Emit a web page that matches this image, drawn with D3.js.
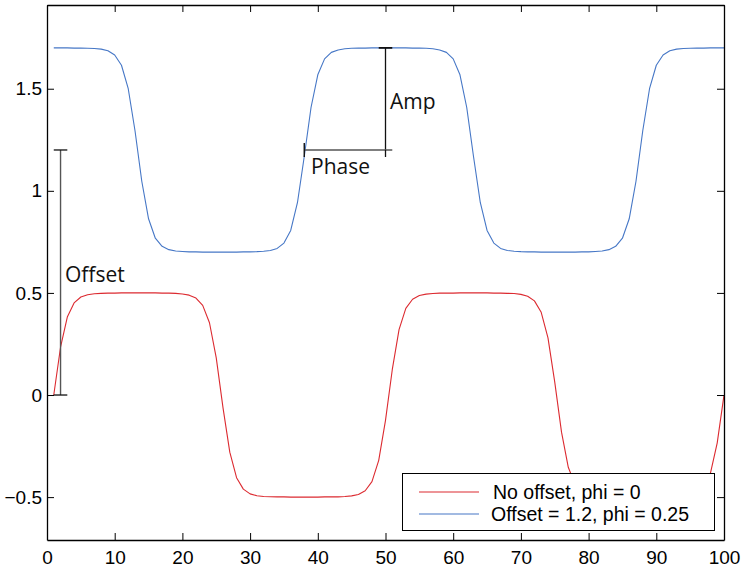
<!DOCTYPE html>
<html>
<head>
<meta charset="utf-8">
<script src="https://cdn.jsdelivr.net/npm/d3@7"></script>
<style>
  html, body { margin: 0; padding: 0; background: #fff; }
  svg { display: block; }
</style>
</head>
<body>
<svg id="chart" width="744" height="571"></svg>
<script>
// ---- data ----
const seriesNames = ["No offset, phi = 0", "Offset = 1.2, phi = 0.25"];
const xTicks = [0, 10, 20, 30, 40, 50, 60, 70, 80, 90, 100];
const yTicks = [-0.5, 0, 0.5, 1, 1.5];
const sampleIndex = d3.range(1, 101);

const redValues = [
  0, 0.234, 0.382, 0.451, 0.480, 0.491, 0.496, 0.498, 0.499, 0.499,
  0.500, 0.500, 0.500, 0.500, 0.500, 0.500, 0.499, 0.499, 0.498, 0.495,
  0.489, 0.475, 0.439, 0.354, 0.182, -0.063, -0.280, -0.405, -0.461, -0.484,
  -0.493, -0.497, -0.498, -0.499, -0.499, -0.500, -0.500, -0.500, -0.500, -0.500,
  -0.499, -0.499, -0.499, -0.497, -0.494, -0.487, -0.469, -0.424, -0.320, -0.124,
  0.124, 0.320, 0.424, 0.469, 0.487, 0.494, 0.497, 0.499, 0.499, 0.499,
  0.500, 0.500, 0.500, 0.500, 0.500, 0.499, 0.499, 0.498, 0.497, 0.493,
  0.484, 0.461, 0.405, 0.280, 0.063, -0.182, -0.354, -0.439, -0.475, -0.489,
  -0.495, -0.498, -0.499, -0.499, -0.500, -0.500, -0.500, -0.500, -0.500, -0.500,
  -0.499, -0.499, -0.498, -0.496, -0.491, -0.480, -0.451, -0.382, -0.234, 0
];

const blueValues = [
  1.700, 1.700, 1.700, 1.699, 1.699, 1.698, 1.697, 1.694, 1.686, 1.665,
  1.615, 1.500, 1.294, 1.047, 0.863, 0.768, 0.728, 0.712, 0.705, 0.703,
  0.701, 0.701, 0.700, 0.700, 0.700, 0.700, 0.700, 0.700, 0.701, 0.701,
  0.702, 0.704, 0.708, 0.718, 0.744, 0.806, 0.943, 1.168, 1.408, 1.568,
  1.646, 1.678, 1.690, 1.696, 1.698, 1.699, 1.699, 1.700, 1.700, 1.700,
  1.700, 1.700, 1.700, 1.699, 1.699, 1.698, 1.696, 1.690, 1.678, 1.646,
  1.568, 1.408, 1.168, 0.943, 0.806, 0.744, 0.718, 0.708, 0.704, 0.702,
  0.701, 0.701, 0.700, 0.700, 0.700, 0.700, 0.700, 0.700, 0.701, 0.701,
  0.703, 0.705, 0.712, 0.728, 0.768, 0.863, 1.047, 1.294, 1.500, 1.615,
  1.665, 1.686, 1.694, 1.697, 1.698, 1.699, 1.699, 1.700, 1.700, 1.700
];

const colors = ["#dc2a30", "#4677c6"];

// ---- layout ----
const svg = d3.select("#chart");
const L = 47, R = 724, T = 5, B = 540;
const x = d3.scaleLinear().domain([0, 100]).range([L, R]);
const y = d3.scaleLinear().domain([-0.71, 1.91]).range([B, T]);
const fmt = d3.format("");
const tickFont = "'Liberation Sans', Arial, Helvetica, sans-serif";
const annFont = "'Open Sans', 'Noto Sans', sans-serif";

// clip
svg.append("clipPath").attr("id", "clip")
  .append("rect").attr("x", L).attr("y", T).attr("width", R - L).attr("height", B - T);

// series
const line = d3.line().x((d, i) => x(sampleIndex[i])).y(d => y(d));
const plot = svg.append("g").attr("clip-path", "url(#clip)");
[redValues, blueValues].forEach((vals, s) => {
  plot.append("path").datum(vals)
    .attr("fill", "none").attr("stroke", colors[s]).attr("stroke-width", 1.1)
    .attr("stroke-linejoin", "round")
    .attr("d", line);
});

// annotations (data coordinates)
const ann = svg.append("g");
function seg(x1, y1, x2, y2, color, w) {
  ann.append("line").attr("x1", x(x1)).attr("y1", y(y1)).attr("x2", x(x2)).attr("y2", y(y2))
    .attr("stroke", color).attr("stroke-width", w);
}
// Offset
seg(2, 0, 2, 1.2, "#555", 1.4);
seg(1, 1.2, 3, 1.2, "#111", 1.3);
seg(1, 0, 3, 0, "#111", 1.3);
// Amp
seg(50, 1.7, 50, 1.2, "#111", 1.3);
seg(49, 1.7, 51, 1.7, "#111", 1.8);
// Phase
seg(38, 1.2, 51, 1.2, "#555", 1.6);
ann.append("line").attr("x1", x(38)).attr("x2", x(38)).attr("y1", y(1.2) - 7).attr("y2", y(1.2) + 7)
  .attr("stroke", "#111").attr("stroke-width", 1.4);
ann.append("line").attr("x1", x(50)).attr("x2", x(50)).attr("y1", y(1.2)).attr("y2", y(1.2) + 7)
  .attr("stroke", "#111").attr("stroke-width", 1.3);

ann.append("text").attr("x", 65).attr("y", 282).text("Offset")
  .attr("font-family", annFont).attr("font-size", 21).attr("fill", "#111");
ann.append("text").attr("x", 390).attr("y", 109).text("Amp")
  .attr("font-family", annFont).attr("font-size", 21).attr("fill", "#111");
ann.append("text").attr("x", 311).attr("y", 174).text("Phase")
  .attr("font-family", annFont).attr("font-size", 21).attr("fill", "#111");

// axes (box with inward ticks)
const tl = 7;
const ax = svg.append("g");
ax.append("g").attr("transform", `translate(0,${B})`)
  .call(d3.axisBottom(x).tickValues(xTicks).tickSizeInner(-tl).tickSizeOuter(0).tickPadding(11).tickFormat(fmt));
ax.append("g").attr("transform", `translate(0,${T})`)
  .call(d3.axisTop(x).tickValues(xTicks).tickSizeInner(-tl).tickSizeOuter(0).tickFormat(""));
ax.append("g").attr("transform", `translate(${L},0)`)
  .call(d3.axisLeft(y).tickValues(yTicks).tickSizeInner(-tl).tickSizeOuter(0).tickPadding(5).tickFormat(fmt));
ax.append("g").attr("transform", `translate(${R},0)`)
  .call(d3.axisRight(y).tickValues(yTicks).tickSizeInner(-tl).tickSizeOuter(0).tickFormat(""));
ax.selectAll(".domain").attr("stroke", "#000").attr("stroke-width", 1.3);
ax.selectAll(".tick line").attr("stroke", "#000").attr("stroke-width", 1);
ax.selectAll(".tick text").attr("font-family", tickFont).attr("font-size", 19).attr("fill", "#000");

// legend
const lg = svg.append("g");
lg.append("rect").attr("x", 402.5).attr("y", 473.5).attr("width", 312).attr("height", 57)
  .attr("fill", "#fff").attr("stroke", "#000").attr("stroke-width", 1);
const legY = [492, 514];
seriesNames.forEach((name, i) => {
  lg.append("line").attr("x1", 419).attr("x2", 479).attr("y1", legY[i]).attr("y2", legY[i])
    .attr("stroke", colors[i]).attr("stroke-width", 1.1);
  lg.append("text").attr("x", i === 0 ? 493 : 491).attr("y", legY[i] + 6.5).text(name)
    .attr("font-family", tickFont).attr("font-size", 19.5).attr("fill", "#000");
});
</script>
</body>
</html>
